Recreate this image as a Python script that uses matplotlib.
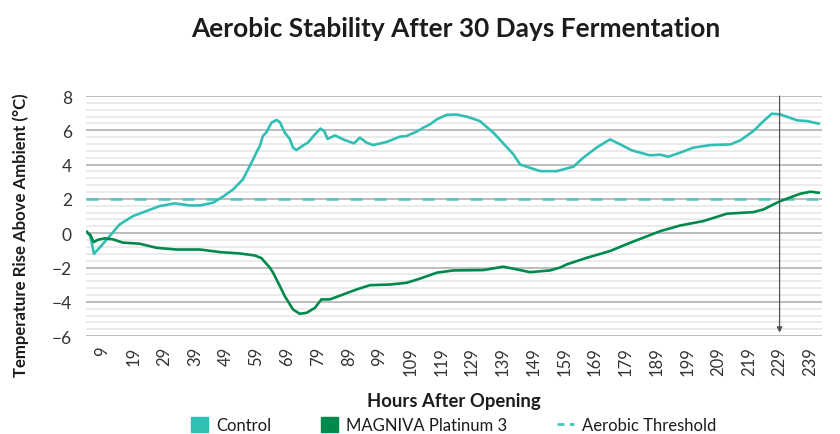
import numpy as np
import matplotlib
matplotlib.use("Agg")
import matplotlib.pyplot as plt
from matplotlib.patches import Patch
from matplotlib.lines import Line2D

plt.rcParams['font.family'] = ['Lato', 'DejaVu Sans']

# hours after opening / temperature rise
control_h = [3.9, 5.0, 6.2, 8.0, 11.3, 14.5, 18.9, 23.2, 27.5, 32.4, 37.3, 40.6, 44.9, 48.1,
             51.4, 54.6, 57.9, 59.5, 60.1, 61.1, 62.3, 63.9, 65.5, 66.6, 68.2, 69.8, 70.9,
             72.0, 73.6, 75.8, 78.0, 79.8, 81.0, 82.1, 84.5, 87.7, 90.7, 92.6, 94.8, 96.9,
             101.3, 105.6, 107.8, 111.0, 113.2, 115.4, 117.6, 120.8, 124.0, 127.3, 131.6,
             136.0, 142.5, 144.7, 151.2, 156.6, 162.0, 165.2, 169.6, 173.9, 177.2, 181.0,
             186.9, 190.2, 192.9, 196.7, 201.0, 206.5, 213.0, 216.2, 220.5, 223.8, 226.5,
             229.2, 234.7, 237.9, 241.7]
control_v = [0.07, -0.17, -1.2, -0.85, -0.17, 0.51, 1.0, 1.29, 1.58, 1.74, 1.62, 1.62, 1.78, 2.13,
             2.55, 3.14, 4.3, 4.9, 5.08, 5.67, 5.9, 6.45, 6.6, 6.48, 5.86, 5.5, 4.98,
             4.85, 5.05, 5.3, 5.76, 6.1, 5.96, 5.5, 5.7, 5.43, 5.24, 5.57, 5.28, 5.14,
             5.32, 5.63, 5.67, 5.92, 6.15, 6.35, 6.64, 6.9, 6.92, 6.8, 6.54,
             5.86, 4.6, 4.0, 3.62, 3.62, 3.88, 4.4, 5.0, 5.47, 5.18, 4.83,
             4.54, 4.58, 4.46, 4.7, 4.99, 5.14, 5.18, 5.41, 5.96, 6.54, 6.97,
             6.93, 6.58, 6.54, 6.39]

magniva_h = [3.9, 5.0, 6.1, 7.5, 9.7, 12.4, 15.6, 21.0, 26.5, 33.0, 40.6, 47.1, 53.6, 58.5,
             60.6, 63.3, 64.4, 66.6, 68.2, 70.9, 73.1, 75.3, 78.0, 80.1, 82.8, 87.2, 91.5,
             95.9, 102.4, 107.8, 112.1, 117.6, 123.0, 132.7, 139.2, 143.6, 147.9, 154.4,
             157.7, 159.8, 166.4, 173.9, 180.4, 190.2, 196.7, 204.3, 211.9, 220.5, 223.8,
             229.2, 235.7, 239.0, 241.7]
magniva_v = [0.07, -0.1, -0.52, -0.38, -0.3, -0.36, -0.55, -0.61, -0.85, -0.95, -0.95, -1.1, -1.18, -1.3,
             -1.45, -2.0, -2.3, -3.08, -3.67, -4.45, -4.7, -4.64, -4.35, -3.86, -3.86, -3.57, -3.28,
             -3.03, -2.99, -2.89, -2.65, -2.3, -2.17, -2.15, -1.95, -2.11, -2.27, -2.17,
             -2.0, -1.82, -1.43, -1.04, -0.56, 0.12, 0.45, 0.71, 1.14, 1.23, 1.39,
             1.87, 2.3, 2.42, 2.36]

threshold = 2
crossing_hour = 229
tick_hours = list(range(9, 240, 10))

teal = '#31BFB4'
green = '#00894A'
dark = '#1E1B1C'

fig = plt.figure(figsize=(8.4, 4.35), dpi=100)
ax = fig.add_axes([0.102, 0.225, 0.877, 0.552])

ax.set_xlim(3.5, 242.9)
ax.set_ylim(-6, 8)
ax.set_yticks(np.arange(-6, 9, 2))
ax.set_yticks(np.arange(-6, 8.01, 0.4), minor=True)
ax.grid(which='minor', axis='y', color='#EBEBEB', lw=1.4, zorder=0)
ax.grid(which='major', axis='y', color='#BDBDBD', lw=1.4, zorder=0)
ax.set_xticks(tick_hours)
ax.set_xticklabels([str(t) for t in tick_hours], rotation=90)
ax.tick_params(which='both', length=0)
ax.tick_params(axis='y', labelsize=12.5, pad=10, colors='#333333')
ax.tick_params(axis='x', labelsize=12, pad=7, colors='#333333')
for s in ax.spines.values():
    s.set_visible(False)

ax.axhline(threshold, color='#4CC6BC', lw=1.8, ls=(0, (4.8, 4.8)), zorder=2)
ax.plot(control_h, control_v, color=teal, lw=1.9, zorder=3)
ax.plot(magniva_h, magniva_v, color=green, lw=1.9, zorder=3)

ax.annotate('', xy=(crossing_hour, -5.8), xytext=(crossing_hour, 8),
            arrowprops=dict(arrowstyle='-|>', color='#555555', lw=0.9,
                            mutation_scale=8, shrinkA=0, shrinkB=0), zorder=4)

fig.text(0.542, 0.933, 'Aerobic Stability After 30 Days Fermentation',
         ha='center', va='center', fontsize=18.9, fontweight='bold', color=dark)
fig.text(0.025, 0.46, 'Temperature Rise Above Ambient (°C)', rotation=90,
         ha='center', va='center', fontsize=12.1, fontweight='bold', color=dark)
fig.text(0.54, 0.078, 'Hours After Opening', ha='center', va='center',
         fontsize=13.3, fontweight='bold', color=dark)

handles = [Patch(color=teal), Patch(color=green),
           Line2D([], [], color='#4CC6BC', lw=2, ls=(0, (2.5, 2)))]
labels = ['Control', 'MAGNIVA Platinum 3', 'Aerobic Threshold']
fig.legend(handles, labels, loc='center', bbox_to_anchor=(0.54, 0.02), ncol=3,
           frameon=False, fontsize=12, handlelength=1.0, handleheight=1.0,
           handletextpad=0.5, columnspacing=3.0, labelcolor=dark)

fig.savefig('out.png', dpi=100)
